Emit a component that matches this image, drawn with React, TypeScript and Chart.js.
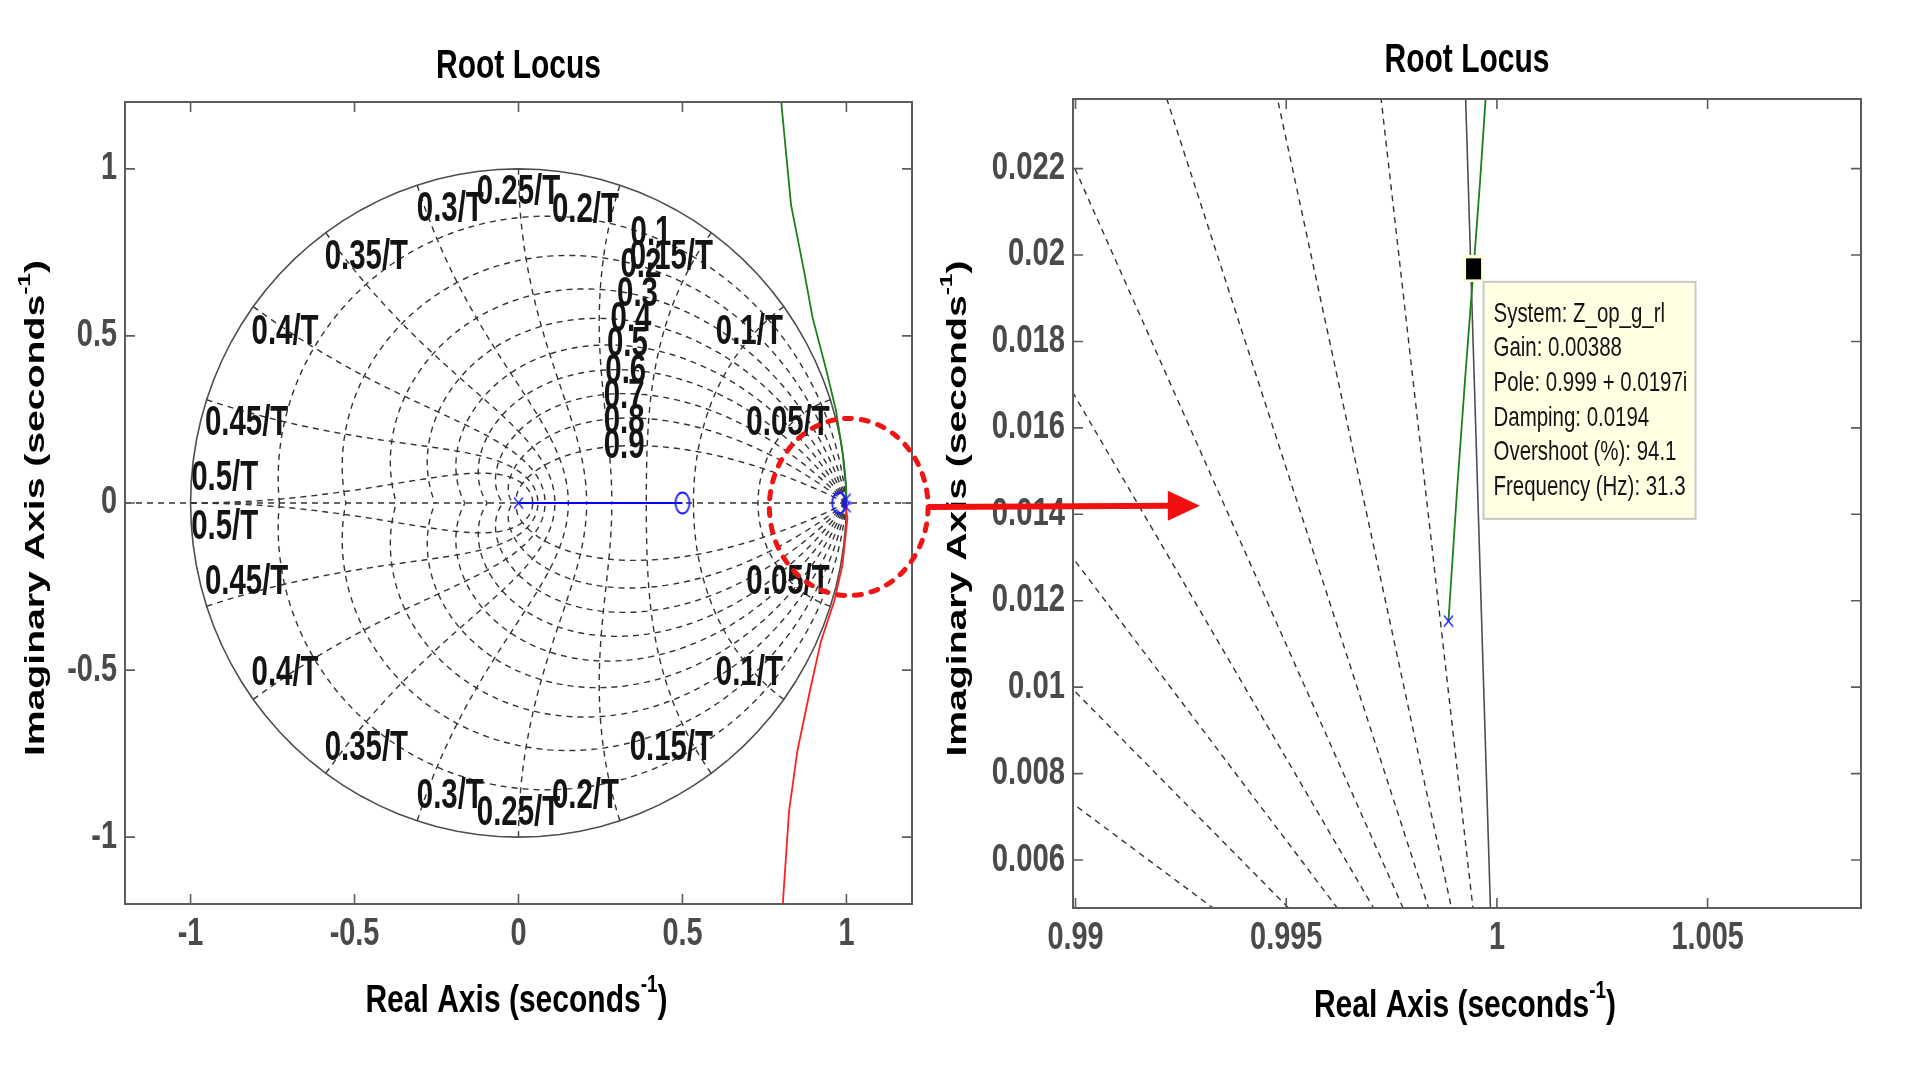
import React, { useEffect, useRef } from "react";
import { Chart, registerables } from "chart.js";

Chart.register(...registerables);

// ---------------- data ----------------
// z-plane grid (zgrid): damping ratios and natural frequencies (in 1/T)
const dampingRatios = [0.1, 0.2, 0.3, 0.4, 0.5, 0.6, 0.7, 0.8, 0.9];
const naturalFrequencies = [0.05, 0.1, 0.15, 0.2, 0.25, 0.3, 0.35, 0.4, 0.45, 0.5];

const dampingLabels = ["0.1", "0.2", "0.3", "0.4", "0.5", "0.6", "0.7", "0.8", "0.9"];
const dampingLabelRe = [0.404, 0.373, 0.363, 0.343, 0.332, 0.327, 0.322, 0.322, 0.322];
const dampingLabelIm = [0.807, 0.712, 0.623, 0.548, 0.474, 0.394, 0.319, 0.245, 0.17];

const frequencyLabels = ["0.05/T", "0.1/T", "0.15/T", "0.2/T", "0.25/T", "0.3/T", "0.35/T", "0.4/T", "0.45/T", "0.5/T"];
const frequencyLabelRe = [0.822, 0.704, 0.466, 0.204, 0.0, -0.208, -0.464, -0.712, -0.829, -0.896];
const frequencyLabelIm = [0.239, 0.51, 0.734, 0.877, 0.93, 0.878, 0.734, 0.51, 0.239, 0.073];

// root locus branches
const upperBranchRe = [0.99885, 0.99905, 0.99925, 0.999445, 0.9996, 0.99973, 1.0005, 0.988, 0.968, 0.938, 0.897, 0.871, 0.831, 0.8026, 0.798];
const upperBranchIm = [0.01153, 0.0145, 0.0172, 0.01968, 0.0217, 0.0236, 0.04, 0.154, 0.278, 0.4, 0.554, 0.693, 0.893, 1.185, 1.25];
const lowerBranchRe = [0.99885, 1.0, 1.003, 0.988, 0.963, 0.922, 0.887, 0.851, 0.825, 0.806, 0.803];
const lowerBranchIm = [-0.01153, -0.025, -0.046, -0.185, -0.293, -0.415, -0.57, -0.739, -0.922, -1.2, -1.25];
const realBranchRe = [0, 0.5];
const realBranchIm = [0, 0];
const poleRe = [0, 0.99885, 0.99885];
const poleIm = [0, 0.01153, -0.01153];
const zeroRe = [0.5, 0.978];
const zeroIm = [0, 0];
const selectedRe = [0.999445];
const selectedIm = [0.01968];
const dataTipLines = [
  "System: Z_op_g_rl",
  "Gain: 0.00388",
  "Pole: 0.999 + 0.0197i",
  "Damping: 0.0194",
  "Overshoot (%): 94.1",
  "Frequency (Hz): 31.3",
];

// axes
const leftTicks = [-1, -0.5, 0, 0.5, 1];
const leftTickLabels = ["-1", "-0.5", "0", "0.5", "1"];
const leftLimits = [-1.2, 1.2];
const zoomXTicks = [0.99, 0.995, 1, 1.005];
const zoomXTickLabels = ["0.99", "0.995", "1", "1.005"];
const zoomYTicks = [0.006, 0.008, 0.01, 0.012, 0.014, 0.016, 0.018, 0.02, 0.022];
const zoomYTickLabels = ["0.006", "0.008", "0.01", "0.012", "0.014", "0.016", "0.018", "0.02", "0.022"];
const zoomXLimits = [0.98994, 1.00864];
const zoomYLimits = [0.00489, 0.02361];

// annotation: focus ellipse (left data units) and arrow target (right data units)
const focusCenter = [1.007, -0.012];
const focusRadii = [0.242, 0.265];
const arrowTarget = [0.99295, 0.0142];

// ---------------- helpers ----------------
const W = 1911;
const H = 1070;
const FONT = '"Liberation Sans", Arial, Helvetica, sans-serif';

type P = { x: number; y: number };

function zip(re: number[], im: number[]): P[] {
  return re.map((v, i) => ({ x: v, y: im[i] }));
}

function unitCircle(): P[] {
  const pts: P[] = [];
  for (let i = 0; i <= 100; i++) {
    const a = (2 * Math.PI * i) / 100;
    pts.push({ x: Math.cos(a), y: Math.sin(a) });
  }
  return pts;
}

function dampingCurve(zeta: number, sign: number): P[] {
  const m = zeta / Math.sqrt(1 - zeta * zeta);
  const pts: P[] = [];
  for (let i = 0; i <= 100; i++) {
    const th = (Math.PI * i) / 100;
    const r = Math.exp(-m * th);
    pts.push({ x: r * Math.cos(th), y: sign * r * Math.sin(th) });
  }
  return pts;
}

function frequencyCurve(k: number, sign: number): P[] {
  const w = 2 * Math.PI * k;
  const pts: P[] = [];
  for (let i = 0; i <= 80; i++) {
    const phi = (Math.PI / 2) * (i / 80);
    const z = Math.sin(phi);
    const r = Math.exp(-w * z);
    const th = w * Math.cos(phi);
    pts.push({ x: r * Math.cos(th), y: sign * r * Math.sin(th) });
  }
  return pts;
}

function drawText(ctx: CanvasRenderingContext2D, text: string, x: number, y: number, font: string, color: string, sx: number, align: CanvasTextAlign) {
  ctx.save();
  ctx.font = font;
  ctx.fillStyle = color;
  ctx.textBaseline = "middle";
  ctx.textAlign = align;
  ctx.translate(x, y);
  ctx.scale(sx, 1);
  ctx.fillText(text, 0, 0);
  ctx.restore();
}

type Part = { t: string; sup?: boolean };
function drawRich(ctx: CanvasRenderingContext2D, parts: Part[], cx: number, cy: number, size: number, sAlong: number, rot: number) {
  ctx.save();
  const main = `bold ${size}px ${FONT}`;
  const small = `bold ${Math.round(size * 0.62)}px ${FONT}`;
  const widths = parts.map((p) => {
    ctx.font = p.sup ? small : main;
    return ctx.measureText(p.t).width;
  });
  const total = widths.reduce((a, b) => a + b, 0);
  ctx.translate(cx, cy);
  ctx.rotate(rot);
  ctx.scale(sAlong, 1);
  ctx.fillStyle = "#000";
  ctx.textBaseline = "middle";
  ctx.textAlign = "left";
  let xx = -total / 2;
  parts.forEach((p, i) => {
    ctx.font = p.sup ? small : main;
    ctx.fillText(p.t, xx, p.sup ? -size * 0.42 : 0);
    xx += widths[i];
  });
  ctx.restore();
}

function makeMarker(w: number, h: number, draw: (c: CanvasRenderingContext2D) => void): HTMLCanvasElement {
  const c = document.createElement("canvas");
  c.width = w;
  c.height = h;
  const g = c.getContext("2d")!;
  draw(g);
  return c;
}

type Area = { left: number; top: number; right: number; bottom: number };

type Decor = {
  xTicks: number[];
  xLabels: string[];
  yTicks: number[];
  yLabels: string[];
  titleDy: number;
  xTitleDy: number;
  yTitleDx: number;
  yLabelSx: number;
  extra?: (chart: any) => void;
};

function decorPlugin(d: Decor) {
  return {
    id: "decor",
    afterDatasetsDraw(chart: any) {
      const { ctx, chartArea: a } = chart;
      const xs = chart.scales.x;
      const ys = chart.scales.y;
      ctx.save();
      // frame
      ctx.strokeStyle = "#5c5c5c";
      ctx.lineWidth = 2;
      ctx.strokeRect(a.left, a.top, a.right - a.left, a.bottom - a.top);
      // inner ticks on all four sides
      ctx.lineWidth = 1.6;
      xs.ticks.forEach((t: any) => {
        const px = xs.getPixelForValue(t.value);
        ctx.beginPath();
        ctx.moveTo(px, a.bottom);
        ctx.lineTo(px, a.bottom - 10);
        ctx.moveTo(px, a.top);
        ctx.lineTo(px, a.top + 10);
        ctx.stroke();
      });
      ys.ticks.forEach((t: any) => {
        const py = ys.getPixelForValue(t.value);
        ctx.beginPath();
        ctx.moveTo(a.left, py);
        ctx.lineTo(a.left + 10, py);
        ctx.moveTo(a.right, py);
        ctx.lineTo(a.right - 10, py);
        ctx.stroke();
      });
      ctx.restore();
      // tick labels
      const tickFont = `bold 38px ${FONT}`;
      d.xTicks.forEach((v, i) => {
        drawText(ctx, d.xLabels[i], xs.getPixelForValue(v), a.bottom + 31, tickFont, "#4a4a4a", 0.76, "center");
      });
      d.yTicks.forEach((v, i) => {
        drawText(ctx, d.yLabels[i], a.left - 8, ys.getPixelForValue(v), tickFont, "#4a4a4a", d.yLabelSx, "right");
      });
      // titles
      const cx = (a.left + a.right) / 2;
      const cy = (a.top + a.bottom) / 2;
      drawText(ctx, "Root Locus", cx, a.top - d.titleDy, `bold 40px ${FONT}`, "#000", 0.75, "center");
      drawRich(ctx, [{ t: "Real Axis (seconds" }, { t: "-1", sup: true }, { t: ")" }], cx - 2, a.bottom + d.xTitleDy, 38, 0.79, 0);
      drawRich(ctx, [{ t: "Imaginary Axis (seconds" }, { t: "-1", sup: true }, { t: ")" }], a.left - d.yTitleDx, cy + 5, 27, 1.45, -Math.PI / 2);
      if (d.extra) d.extra(chart);
    },
  };
}

function buildDatasets(markers: { x: HTMLCanvasElement; o: HTMLCanvasElement; tip: HTMLCanvasElement }, withTip: boolean) {
  const grid = {
    showLine: true,
    pointRadius: 0,
    borderColor: "#333333",
    borderWidth: 1.4,
    borderDash: [6, 5],
    fill: false,
    order: 10,
  };
  const ds: any[] = [];
  ds.push({ ...grid, data: unitCircle(), borderDash: [], borderColor: "#4d4d4d", borderWidth: 1.6, order: 9 });
  dampingRatios.forEach((z) => {
    ds.push({ ...grid, data: dampingCurve(z, 1) });
    ds.push({ ...grid, data: dampingCurve(z, -1) });
  });
  naturalFrequencies.forEach((k) => {
    ds.push({ ...grid, data: frequencyCurve(k, 1) });
    ds.push({ ...grid, data: frequencyCurve(k, -1) });
  });
  ds.push({ ...grid, data: [{ x: leftLimits[0], y: 0 }, { x: leftLimits[1], y: 0 }] });

  const branch = { showLine: true, pointRadius: 0, borderWidth: 1.8, fill: false, order: 3 };
  ds.push({ ...branch, data: zip(realBranchRe, realBranchIm), borderColor: "#0000ff", borderWidth: 2.2 });
  ds.push({ ...branch, data: zip(upperBranchRe, upperBranchIm), borderColor: "#1a801a" });
  ds.push({ ...branch, data: zip(lowerBranchRe, lowerBranchIm), borderColor: "#ff2020" });
  ds.push({ showLine: false, data: zip(poleRe, poleIm), pointStyle: markers.x, pointRadius: 5, order: 2 });
  ds.push({ showLine: false, data: zip(zeroRe, zeroIm), pointStyle: markers.o, pointRadius: 5, order: 2 });
  if (withTip) {
    ds.push({ showLine: false, data: zip(selectedRe, selectedIm), pointStyle: markers.tip, pointRadius: 5, order: 1 });
  }
  return ds;
}

function makeChart(canvas: HTMLCanvasElement, area: Area, xLim: number[], yLim: number[], xTicks: number[], yTicks: number[], datasets: any[], plugin: any) {
  return new Chart(canvas, {
    type: "scatter",
    data: { datasets },
    options: {
      animation: false,
      responsive: false,
      devicePixelRatio: 1,
      events: [],
      layout: { padding: { left: area.left, top: area.top, right: W - area.right, bottom: H - area.bottom } },
      plugins: { legend: { display: false }, tooltip: { enabled: false }, title: { display: false } },
      scales: {
        x: {
          type: "linear",
          min: xLim[0],
          max: xLim[1],
          grid: { display: false },
          border: { display: false },
          ticks: { display: false },
          afterBuildTicks: (s: any) => {
            s.ticks = xTicks.map((v) => ({ value: v }));
          },
          afterFit: (s: any) => {
            s.height = 0;
          },
        },
        y: {
          type: "linear",
          min: yLim[0],
          max: yLim[1],
          grid: { display: false },
          border: { display: false },
          ticks: { display: false },
          afterBuildTicks: (s: any) => {
            s.ticks = yTicks.map((v) => ({ value: v }));
          },
          afterFit: (s: any) => {
            s.width = 0;
          },
        },
      },
    } as any,
    plugins: [plugin],
  });
}

export default function App() {
  const leftRef = useRef<HTMLCanvasElement>(null);
  const rightRef = useRef<HTMLCanvasElement>(null);

  useEffect(() => {
    const markers = {
      x: makeMarker(11, 13, (g) => {
        g.strokeStyle = "#1a1aff";
        g.lineWidth = 1.3;
        g.beginPath();
        g.moveTo(1, 1);
        g.lineTo(10, 12);
        g.moveTo(10, 1);
        g.lineTo(1, 12);
        g.stroke();
      }),
      o: makeMarker(18, 24, (g) => {
        g.strokeStyle = "#1a1aff";
        g.lineWidth = 1.8;
        g.beginPath();
        g.ellipse(9, 12, 7, 10.5, 0, 0, Math.PI * 2);
        g.stroke();
      }),
      tip: makeMarker(21, 27, (g) => {
        g.fillStyle = "#ffffd2";
        g.fillRect(0, 0, 21, 27);
        g.fillStyle = "#000";
        g.fillRect(3, 3, 15, 21);
      }),
    };

    const labelFont = `bold 42px ${FONT}`;
    const leftPlugin = decorPlugin({
      xTicks: leftTicks,
      xLabels: leftTickLabels,
      yTicks: leftTicks,
      yLabels: leftTickLabels,
      titleDy: 35.5,
      xTitleDy: 97.5,
      yTitleDx: 88.5,
      yLabelSx: 0.76,
      extra: (chart: any) => {
        const { ctx } = chart;
        const xs = chart.scales.x;
        const ys = chart.scales.y;
        // zgrid labels
        dampingLabels.forEach((t, i) => {
          drawText(ctx, t, xs.getPixelForValue(dampingLabelRe[i]), ys.getPixelForValue(dampingLabelIm[i]), labelFont, "#141414", 0.7, "center");
        });
        frequencyLabels.forEach((t, i) => {
          const px = xs.getPixelForValue(frequencyLabelRe[i]);
          drawText(ctx, t, px, ys.getPixelForValue(frequencyLabelIm[i]), labelFont, "#141414", 0.7, "center");
          drawText(ctx, t, px, ys.getPixelForValue(-frequencyLabelIm[i]), labelFont, "#141414", 0.7, "center");
        });
        // focus ellipse
        const ecx = xs.getPixelForValue(focusCenter[0]);
        const ecy = ys.getPixelForValue(focusCenter[1]);
        const rx = xs.getPixelForValue(focusCenter[0] + focusRadii[0]) - ecx;
        const ry = ecy - ys.getPixelForValue(focusCenter[1] + focusRadii[1]);
        ctx.save();
        ctx.strokeStyle = "#f01414";
        ctx.lineWidth = 5;
        ctx.lineCap = "round";
        ctx.setLineDash([7, 10]);
        ctx.beginPath();
        ctx.ellipse(ecx, ecy, rx, ry, 0, 0, Math.PI * 2);
        ctx.stroke();
        ctx.restore();
      },
    });

    const leftChart = makeChart(
      leftRef.current!,
      { left: 125, top: 102, right: 912, bottom: 904 },
      leftLimits,
      leftLimits,
      leftTicks,
      leftTicks,
      buildDatasets(markers, false),
      leftPlugin
    );

    const rightPlugin = decorPlugin({
      xTicks: zoomXTicks,
      xLabels: zoomXTickLabels,
      yTicks: zoomYTicks,
      yLabels: zoomYTickLabels,
      titleDy: 38,
      xTitleDy: 99,
      yTitleDx: 114,
      yLabelSx: 0.77,
      extra: (chart: any) => {
        const { ctx } = chart;
        const xs = chart.scales.x;
        const ys = chart.scales.y;
        // data tip box
        const mx = xs.getPixelForValue(selectedRe[0]);
        const my = ys.getPixelForValue(selectedIm[0]);
        const bx = mx + 10;
        const by = my + 13;
        ctx.save();
        ctx.fillStyle = "#ffffe4";
        ctx.fillRect(bx, by, 212, 237);
        ctx.strokeStyle = "#c8c8c8";
        ctx.lineWidth = 2;
        ctx.strokeRect(bx, by, 212, 237);
        ctx.restore();
        dataTipLines.forEach((t, i) => {
          drawText(ctx, t, bx + 10, by + 32 + i * 34.7, `28px ${FONT}`, "#141414", 0.73, "left");
        });
        // arrow from left ellipse to the zoomed view
        const lx = leftChart.scales.x;
        const ly = leftChart.scales.y;
        const x0 = lx.getPixelForValue(focusCenter[0] + focusRadii[0]);
        const y0 = ly.getPixelForValue(focusCenter[1]);
        const x1 = xs.getPixelForValue(arrowTarget[0]);
        const y1 = ys.getPixelForValue(arrowTarget[1]);
        ctx.save();
        ctx.strokeStyle = "#f01010";
        ctx.fillStyle = "#f01010";
        ctx.lineWidth = 6;
        ctx.beginPath();
        ctx.moveTo(x0, y0);
        ctx.lineTo(x1 - 28, y1);
        ctx.stroke();
        ctx.beginPath();
        ctx.moveTo(x1, y1);
        ctx.lineTo(x1 - 32, y1 - 15);
        ctx.lineTo(x1 - 32, y1 + 15);
        ctx.closePath();
        ctx.fill();
        ctx.restore();
      },
    });

    const rightChart = makeChart(
      rightRef.current!,
      { left: 1073, top: 99, right: 1861, bottom: 908 },
      zoomXLimits,
      zoomYLimits,
      zoomXTicks,
      zoomYTicks,
      buildDatasets(markers, true),
      rightPlugin
    );

    return () => {
      rightChart.destroy();
      leftChart.destroy();
    };
  }, []);

  const canvasStyle: React.CSSProperties = { position: "absolute", left: 0, top: 0, width: W, height: H };
  return (
    <div style={{ position: "absolute", left: 0, top: 0, width: W, height: H, background: "#fff", overflow: "hidden" }}>
      <canvas ref={leftRef} width={W} height={H} style={canvasStyle} />
      <canvas ref={rightRef} width={W} height={H} style={{ ...canvasStyle, pointerEvents: "none" }} />
    </div>
  );
}
